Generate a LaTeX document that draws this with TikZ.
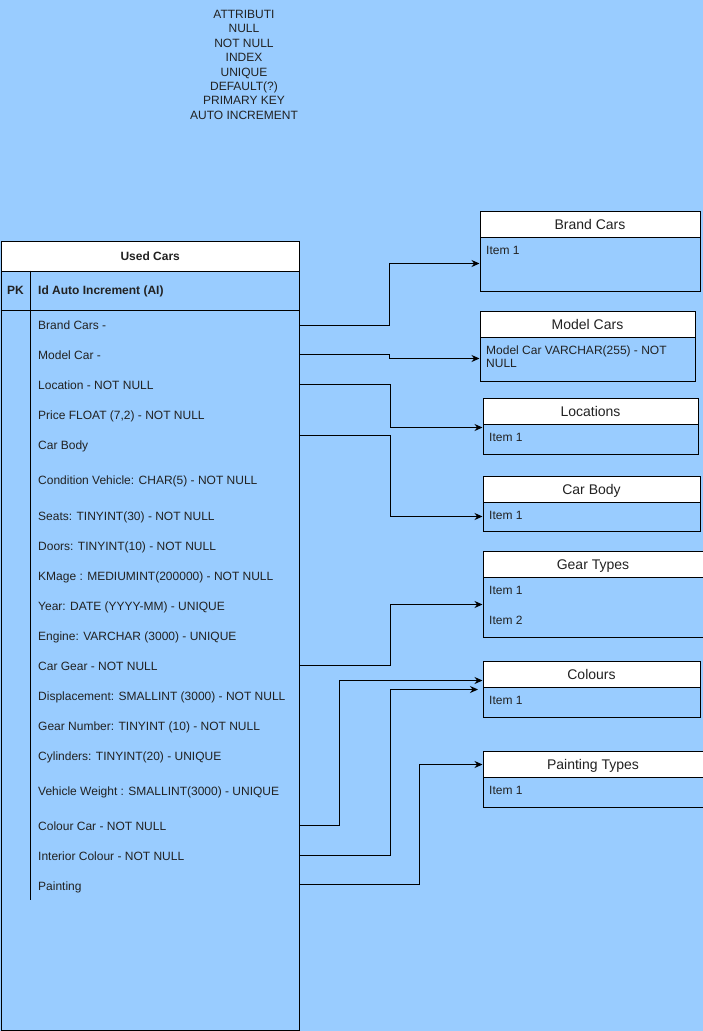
\documentclass[tikz,border=0pt]{standalone}
\usepackage{fontspec}
\setmainfont{Liberation Sans}
\usetikzlibrary{arrows.meta}
\definecolor{bg}{HTML}{99CCFF}
\definecolor{txt}{HTML}{222222}
\begin{document}
\begin{tikzpicture}[x=1pt,y=-1pt,
  frame/.style={draw=black, line width=1pt, inner sep=0pt, anchor=north west},
  hdr/.style={frame, fill=white},
  bodyb/.style={frame, fill=bg},
  rowtxt/.style={anchor=west, inner sep=0pt, text height=8.6pt, text depth=0pt, font=\fontsize{12}{14}\selectfont, text=txt},
  ttl/.style={inner sep=0pt, text height=10pt, text depth=0pt, font=\fontsize{14}{16}\selectfont, text=txt},
  conn/.style={draw=black, line width=1pt, -{Stealth[length=8pt,width=7pt]}},
  ln/.style={draw=black, line width=1pt}
]
\useasboundingbox (0,0) rectangle (703,1031);
\fill[bg] (0,0) rectangle (703,1031);

% top note
\node[align=center, inner sep=0pt, font=\fontsize{12}{14.4}\selectfont, text=txt, anchor=north] (note) at (244,10)
 {ATTRIBUTI\\NULL\\NOT NULL\\INDEX\\UNIQUE\\DEFAULT(?)\\PRIMARY KEY\\AUTO INCREMENT};

% main table
\node[bodyb, minimum width=298.5pt, minimum height=789pt] (ut) at (0.5,240.5) {};
\node[hdr, minimum width=298.5pt, minimum height=30pt] (uth) at (0.5,240.5) {};
\node[rowtxt, anchor=center, font=\bfseries\fontsize{12}{14}\selectfont] (uttitle) at (uth.center) {Used Cars};
\draw[ln] (0.5,310.5) -- (299,310.5);
\draw[ln] (30.5,270.5) -- (30.5,900);
\node[rowtxt, font=\bfseries\fontsize{12}{14}\selectfont] (pk) at (7,290) {PK};
\node[rowtxt, font=\bfseries\fontsize{12}{14}\selectfont] (id) at (38,290) {Id Auto Increment (AI)};

\node[rowtxt] (r1) at (38,325) {Brand Cars -};
\node[rowtxt] (r2) at (38,355) {Model Car -};
\node[rowtxt] (r3) at (38,385) {Location - NOT NULL};
\node[rowtxt] (r4) at (38,415) {Price FLOAT (7,2) - NOT NULL};
\node[rowtxt] (r5) at (38,445) {Car Body};
\node[rowtxt] (r6) at (38,480) {Condition Vehicle: CHAR(5) - NOT NULL};
\node[rowtxt] (r7) at (38,516) {Seats: TINYINT(30) - NOT NULL};
\node[rowtxt] (r8) at (38,546) {Doors: TINYINT(10) - NOT NULL};
\node[rowtxt] (r9) at (38,576) {KMage : MEDIUMINT(200000) - NOT NULL};
\node[rowtxt] (r10) at (38,606) {Year: DATE (YYYY-MM) - UNIQUE};
\node[rowtxt] (r11) at (38,636) {Engine: VARCHAR (3000) - UNIQUE};
\node[rowtxt] (r12) at (38,666) {Car Gear - NOT NULL};
\node[rowtxt] (r13) at (38,696) {Displacement: SMALLINT (3000) - NOT NULL};
\node[rowtxt] (r14) at (38,726) {Gear Number: TINYINT (10) - NOT NULL};
\node[rowtxt] (r15) at (38,756) {Cylinders: TINYINT(20) - UNIQUE};
\node[rowtxt] (r16) at (38,791) {Vehicle Weight : SMALLINT(3000) - UNIQUE};
\node[rowtxt] (r17) at (38,826) {Colour Car - NOT NULL};
\node[rowtxt] (r18) at (38,856) {Interior Colour - NOT NULL};
\node[rowtxt] (r19) at (38,886) {Painting};

% Brand Cars
\node[bodyb, minimum width=220pt, minimum height=80pt] (brand) at (479.5,210.5) {};
\node[hdr, minimum width=220pt, minimum height=26pt] (brandh) at (479.5,210.5) {};
\node[ttl] (brandt) at (brandh.center) {Brand Cars};
\node[rowtxt] (brandi) at (486,250) {Item 1};

% Model Cars
\node[bodyb, minimum width=215pt, minimum height=70pt] (model) at (479.5,310.5) {};
\node[hdr, minimum width=215pt, minimum height=26pt] (modelh) at (479.5,310.5) {};
\node[ttl] (modelt) at (modelh.center) {Model Cars};
\node[rowtxt] (modeli) at (486,350) {Model Car VARCHAR(255) - NOT};
\node[rowtxt] (modeli2) at (486,363.5) {NULL};

% Locations
\node[bodyb, minimum width=215pt, minimum height=56pt] (loc) at (482.5,397.5) {};
\node[hdr, minimum width=215pt, minimum height=26pt] (loch) at (482.5,397.5) {};
\node[ttl] (loct) at (loch.center) {Locations};
\node[rowtxt] (loci) at (489,437) {Item 1};

% Car Body
\node[bodyb, minimum width=217pt, minimum height=55pt] (body) at (482.5,475.5) {};
\node[hdr, minimum width=217pt, minimum height=26pt] (bodyh) at (482.5,475.5) {};
\node[ttl] (bodyt) at (bodyh.center) {Car Body};
\node[rowtxt] (bodyi) at (489,515) {Item 1};

% Gear Types
\node[bodyb, minimum width=220pt, minimum height=86pt] (gear) at (482.5,550.5) {};
\node[hdr, minimum width=220pt, minimum height=26pt] (gearh) at (482.5,550.5) {};
\node[ttl] (geart) at (gearh.center) {Gear Types};
\node[rowtxt] (geari1) at (489,590) {Item 1};
\node[rowtxt] (geari2) at (489,620) {Item 2};

% Colours
\node[bodyb, minimum width=217pt, minimum height=56pt] (col) at (482.5,660.5) {};
\node[hdr, minimum width=217pt, minimum height=26pt] (colh) at (482.5,660.5) {};
\node[ttl] (colt) at (colh.center) {Colours};
\node[rowtxt] (coli) at (489,700) {Item 1};

% Painting Types
\node[bodyb, minimum width=220pt, minimum height=56pt] (paint) at (482.5,750.5) {};
\node[hdr, minimum width=220pt, minimum height=26pt] (painth) at (482.5,750.5) {};
\node[ttl] (paintt) at (painth.center) {Painting Types};
\node[rowtxt] (painti) at (489,790) {Item 1};

% connectors
\coordinate (a1) at (479.5,263.5);
\coordinate (a2) at (479.5,358.5);
\coordinate (a3) at (482.5,427.5);
\coordinate (a4) at (482.5,516.5);
\coordinate (a5) at (482.5,604.5);
\coordinate (a6) at (482.5,680.5);
\coordinate (a7) at (478,689.5);
\coordinate (a8) at (482.5,764.5);

\draw[conn] (ut.east |- 0,325.5) -- (389.5,325.5) |- (a1);
\draw[conn] (ut.east |- 0,354.5) -- (389.5,354.5) |- (a2);
\draw[conn] (ut.east |- 0,384.5) -- (390.5,384.5) |- (a3);
\draw[conn] (ut.east |- 0,435.5) -- (390.5,435.5) |- (a4);
\draw[conn] (ut.east |- 0,665.5) -- (390.5,665.5) |- (a5);
\draw[conn] (ut.east |- 0,825.5) -- (339.5,825.5) |- (a6);
\draw[conn] (ut.east |- 0,855.5) -- (390.5,855.5) |- (a7);
\draw[conn] (ut.east |- 0,884.5) -- (419.5,884.5) |- (a8);
\end{tikzpicture}
\end{document}
